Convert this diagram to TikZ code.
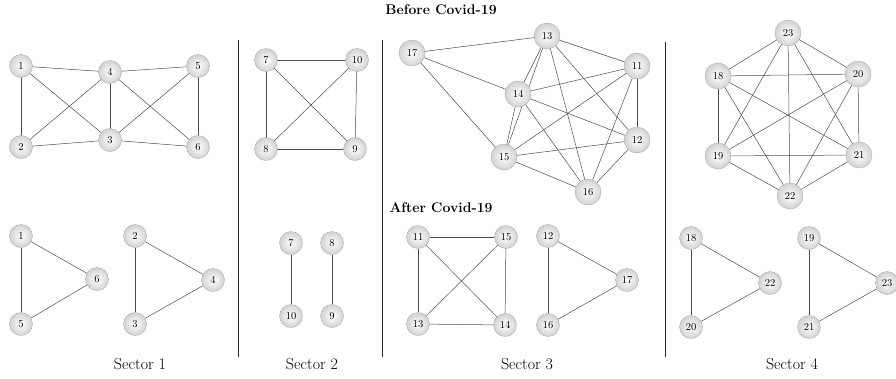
\documentclass[tikz,border=0pt]{standalone}
\usetikzlibrary{shadings}

\tikzset{
  vtx/.style={circle, draw=gray!65, line width=0.4pt, inner sep=0pt,
    minimum size=23pt, inner color=white, outer color=gray!35,
    font=\fontsize{10.5}{12}\selectfont},
  bigvtx/.style={vtx, minimum size=26pt},
  edge/.style={draw=black!70, line width=0.5pt},
  divider/.style={draw=black!85, line width=0.8pt},
  sectorlabel/.style={font=\fontsize{16}{18}\selectfont},
  phaselabel/.style={font=\fontsize{14}{16}\selectfont\bfseries}
}

\begin{document}
\begin{tikzpicture}[x=1pt, y=-1pt]
\useasboundingbox (0,0) rectangle (896,378);

% ---------- period headings ----------
\node[phaselabel] (before) at (441,10) {Before Covid-19};
\node[phaselabel] (after) at (441,208) {After Covid-19};

% ---------- dividers between sectors ----------
\coordinate (d1t) at (238,40);  \coordinate (d1b) at (238,357);
\coordinate (d2t) at (382,40);  \coordinate (d2b) at (382,357);
\coordinate (d3t) at (665,42);  \coordinate (d3b) at (665,357);
\draw[divider] (d1t) -- (d1b);
\draw[divider] (d2t) -- (d2b);
\draw[divider] (d3t) -- (d3b);

% ---------- before: vertex positions ----------
\foreach \n/\x/\y in {1/21/66, 4/110/72, 5/198/66, 2/21/147, 3/110/140, 6/198/147,
                      7/266/60, 10/357/60, 8/266/149, 9/355/149}
  \coordinate (pb\n) at (\x,\y);
\foreach \n/\x/\y in {13/547/36, 17/412/53, 11/637/66, 14/518/94, 12/637/140,
                      15/504/157, 16/588/192,
                      23/788/33, 18/718/76, 20/858/74, 19/718/156, 21/859/155, 22/790/196}
  \coordinate (pb\n) at (\x,\y);

% edges (drawn first so the vertices sit on top)
\foreach \u/\v in {1/4, 4/5, 1/2, 1/3, 2/4, 4/3, 4/6, 5/3, 5/6, 2/3, 3/6,
                   7/10, 7/8, 7/9, 10/8, 10/9, 8/9,
                   17/13, 17/14, 17/15,
                   11/12, 11/13, 11/14, 11/15, 11/16, 12/13, 12/14, 12/15, 12/16,
                   13/14, 13/15, 13/16, 14/15, 14/16, 15/16,
                   18/19, 18/20, 18/21, 18/22, 18/23, 19/20, 19/21, 19/22, 19/23,
                   20/21, 20/22, 20/23, 21/22, 21/23, 22/23}
  \draw[edge] (pb\u) -- (pb\v);

\foreach \n in {1,...,10}
  \node[vtx] (b\n) at (pb\n) {\n};
\foreach \n in {11,...,23}
  \node[bigvtx] (b\n) at (pb\n) {\n};

% ---------- after: vertices ----------
\foreach \n/\x/\y in {1/21/236, 6/97/279, 5/21/324, 2/135/236, 4/213/280, 3/135/324,
                      7/291/243, 8/332/243, 10/291/316, 9/332/316,
                      11/418/237, 15/506/237, 13/418/324, 14/505/325,
                      12/548/236, 17/627/280, 16/548/325,
                      18/691/238, 22/770/283, 20/691/327,
                      19/809/238, 23/887/283, 21/809/327}
  \node[vtx] (a\n) at (\x,\y) {\n};

% after: edges, routed between vertex borders
\foreach \u/\v in {1/5, 1/6, 5/6, 2/3, 2/4, 3/4,
                   7/10, 8/9,
                   11/15, 11/13, 11/14, 15/13, 15/14, 13/14,
                   12/16, 12/17, 16/17,
                   18/20, 18/22, 20/22, 19/21, 19/23, 21/23}
  \draw[edge] (a\u) -- (a\v);

% ---------- sector captions ----------
\node[sectorlabel] (sec1) at (140,364) {Sector 1};
\node[sectorlabel] (sec2) at (312,364) {Sector 2};
\node[sectorlabel] (sec3) at (527,364) {Sector 3};
\node[sectorlabel] (sec4) at (792,364) {Sector 4};
\end{tikzpicture}
\end{document}
